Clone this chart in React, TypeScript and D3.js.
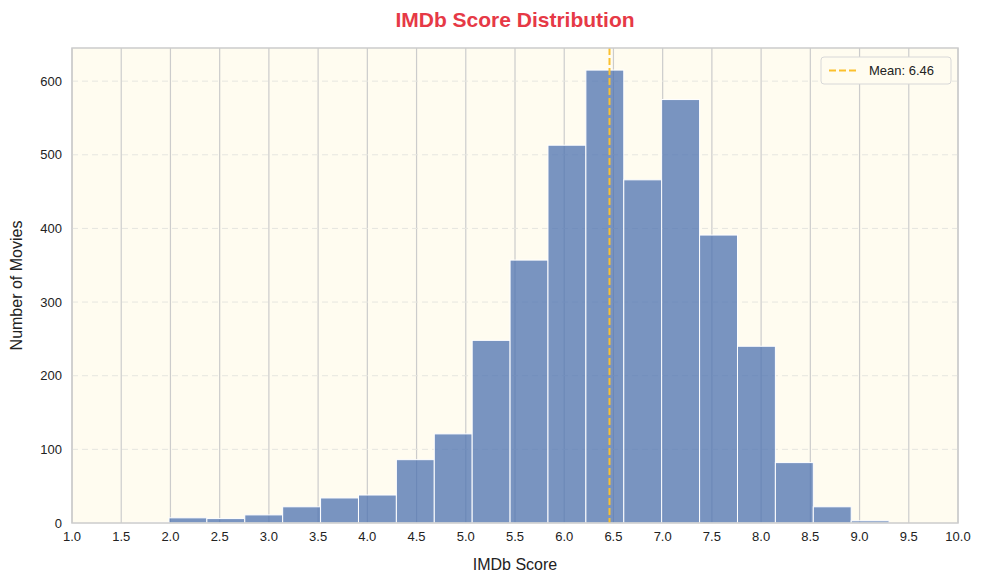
import { useEffect, useRef } from 'react';
import * as d3 from 'd3';

const binStart = 1.6;
const binWidth = 0.385;
const counts = [1, 7, 6, 11, 22, 34, 38, 86, 121, 248, 357, 513, 615, 466, 575, 391, 240, 82, 22, 3];
const xTicks = d3.range(1, 10.01, 0.5);
const yTicks = [0, 100, 200, 300, 400, 500, 600];
const meanScore = 6.46;

export default function App() {
  const ref = useRef<SVGSVGElement>(null);

  useEffect(() => {
    const svg = d3.select(ref.current);
    svg.selectAll('*').remove();
    const font = 'Liberation Sans, Arial, sans-serif';
    const m = { left: 72, right: 26, top: 48, bottom: 61 };
    const W = 984, H = 584;
    const x = d3.scaleLinear().domain([1, 10]).range([m.left, W - m.right]);
    const y = d3.scaleLinear().domain([0, 645]).range([H - m.bottom, m.top]);

    svg.append('rect').attr('x', m.left).attr('y', m.top).attr('width', x(10) - x(1)).attr('height', y(0) - y(645)).attr('fill', '#fffcf0');

    xTicks.forEach((t) => {
      svg.append('line').attr('x1', x(t)).attr('x2', x(t)).attr('y1', m.top).attr('y2', y(0)).attr('stroke', '#cccccc').attr('stroke-width', 1.2);
    });
    yTicks.slice(1).forEach((t) => {
      svg.append('line').attr('x1', m.left).attr('x2', x(10)).attr('y1', y(t)).attr('y2', y(t)).attr('stroke', '#e6e6e0').attr('stroke-dasharray', '6 4');
    });

    counts.forEach((c, i) => {
      const x0 = binStart + i * binWidth;
      svg.append('rect').attr('x', x(x0)).attr('y', y(c)).attr('width', x(x0 + binWidth) - x(x0)).attr('height', y(0) - y(c))
        .attr('fill', '#4c72b0').attr('fill-opacity', 0.75).attr('stroke', '#ffffff').attr('stroke-width', 1);
    });

    svg.append('line').attr('x1', x(meanScore)).attr('x2', x(meanScore)).attr('y1', m.top).attr('y2', y(0))
      .attr('stroke', '#fbc02d').attr('stroke-width', 2).attr('stroke-dasharray', '7 3');

    svg.append('rect').attr('x', m.left).attr('y', m.top).attr('width', x(10) - x(1)).attr('height', y(0) - y(645))
      .attr('fill', 'none').attr('stroke', '#cccccc').attr('stroke-width', 1.5);

    xTicks.forEach((t) => {
      svg.append('text').attr('x', x(t)).attr('y', y(0) + 18).attr('text-anchor', 'middle').attr('font-family', font).attr('font-size', 13).attr('fill', '#222').text(t.toFixed(1));
    });
    yTicks.forEach((t) => {
      svg.append('text').attr('x', m.left - 10).attr('y', y(t) + 4.5).attr('text-anchor', 'end').attr('font-family', font).attr('font-size', 13).attr('fill', '#222').text(t);
    });

    svg.append('text').attr('x', (x(1) + x(10)) / 2).attr('y', 570).attr('text-anchor', 'middle').attr('font-family', font).attr('font-size', 16).attr('fill', '#222').text('IMDb Score');
    svg.append('text').attr('transform', `translate(22,${(y(0) + m.top) / 2}) rotate(-90)`).attr('text-anchor', 'middle').attr('font-family', font).attr('font-size', 16).attr('fill', '#222').text('Number of Movies');
    svg.append('text').attr('x', (x(1) + x(10)) / 2).attr('y', 27).attr('text-anchor', 'middle').attr('font-family', font).attr('font-size', 21).attr('font-weight', 'bold').attr('fill', '#e63946').text('IMDb Score Distribution');

    const lg = svg.append('g').attr('transform', 'translate(821,57)');
    lg.append('rect').attr('width', 130).attr('height', 27).attr('rx', 3).attr('fill', '#fffcf0').attr('stroke', '#d8d8d8');
    lg.append('line').attr('x1', 8).attr('x2', 36).attr('y1', 13.5).attr('y2', 13.5).attr('stroke', '#fbc02d').attr('stroke-width', 2).attr('stroke-dasharray', '7 3');
    lg.append('text').attr('x', 48).attr('y', 18).attr('font-family', font).attr('font-size', 13).attr('fill', '#222').text(`Mean: ${meanScore}`);
  }, []);

  return <svg ref={ref} width={984} height={584} style={{ position: 'absolute', left: 0, top: 0 }} />;
}
